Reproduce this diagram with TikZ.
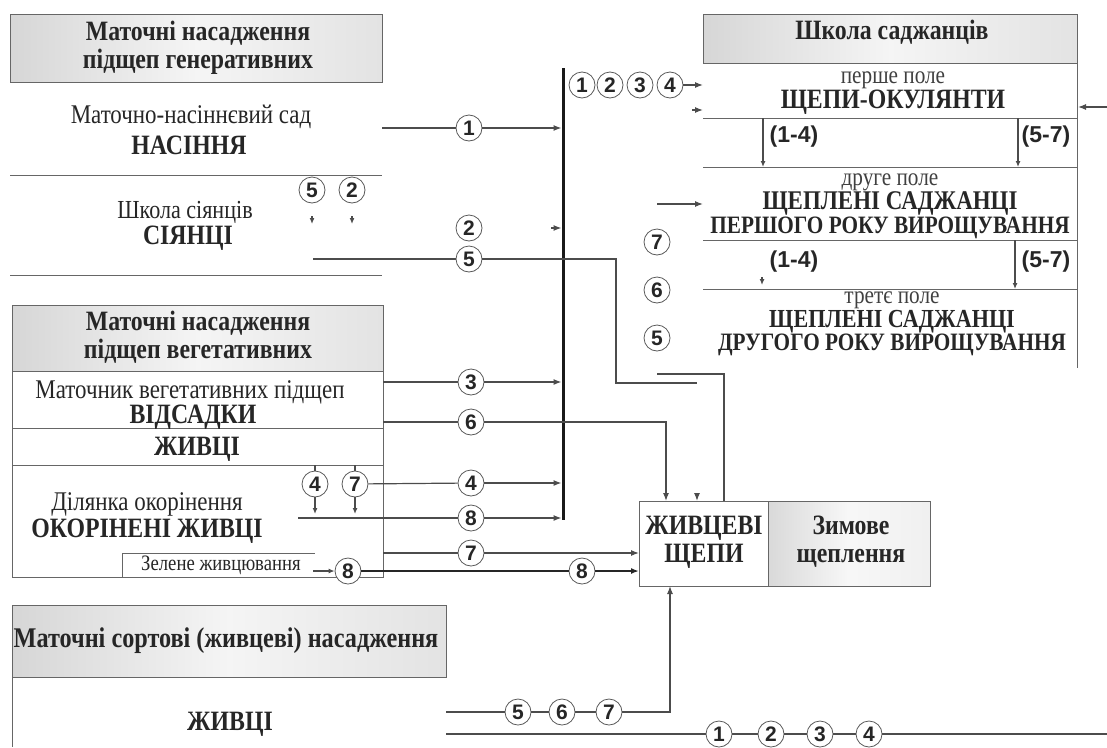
\documentclass[tikz,border=0pt]{standalone}
\usepackage{fontspec}
\setmainfont{Liberation Serif}[FakeStretch=0.85]
\setsansfont{Liberation Sans}
\usetikzlibrary{arrows.meta}
\begin{document}
\begin{tikzpicture}[x=1pt,y=-1pt,
  conn/.style={draw=black!70, line width=1.2pt},
  thick8/.style={draw=black!85, line width=2pt},
  tip/.style={-{Latex[length=8pt,width=6pt]}},
  stip/.style={-{Latex[length=6pt,width=5pt]}},
  frame/.style={draw=black!60, line width=1pt},
  hdr/.style={draw=black!60, line width=1pt, left color=gray!32, right color=gray!22, middle color=gray!8},
  num/.style={circle, draw=black!65, fill=white, line width=0.8pt, inner sep=0pt, minimum size=26pt, font=\sffamily\bfseries\fontsize{21}{21}\selectfont, text=black!85},
  rng/.style={font=\sffamily\bfseries\fontsize{23}{23}\selectfont, text=black!85, inner sep=0pt},
  bt/.style={font=\bfseries\fontsize{28}{28}\selectfont, align=center, text=black!85, inner sep=0pt},
  rt/.style={font=\fontsize{26}{28}\selectfont, align=center, text=black!85, inner sep=0pt},
  fld/.style={align=center, text=black!85, inner sep=0pt},
]
\useasboundingbox (0,0) rectangle (1107,747);

% ---------- left: generative rootstocks ----------
\path[hdr] (10,14) rectangle (382,82);
\node[bt] (hgen) at (198,48) {Маточні насадження\\підщеп генеративних};
\node[rt, font=\fontsize{27}{28}\selectfont] (sad) at (191,117) {Маточно-насіннєвий сад};
\node[bt] (nas) at (189,145) {НАСІННЯ};
\draw[frame] (10,175) -- (382,175);
\node[rt] (shs) at (185,212) {Школа сіянців};
\node[bt] (sian) at (188,238) {СІЯНЦІ};
\draw[frame] (10,275) -- (382,275);
\node[num] (s5) at (312,190) {5};
\node[num] (s2) at (352,190) {2};
\draw[conn,stip] (312,216) -- (312,224);
\draw[conn,stip] (352,216) -- (352,224);

% ---------- left: vegetative rootstocks ----------
\path[hdr] (12,305) rectangle (383,371);
\node[bt] (hveg) at (198,337) {Маточні насадження\\підщеп вегетативних};
\draw[frame] (12,371) rectangle (383,577);
\draw[frame] (12,428) -- (383,428);
\draw[frame] (12,465) -- (383,465);
\node[rt, font=\fontsize{27}{28}\selectfont] (mvp) at (190,392) {Маточник вегетативних підщеп};
\node[bt] (vids) at (193,417) {ВІДСАДКИ};
\node[bt] (zhv1) at (197,449) {ЖИВЦІ};
\node[fld] (dil) at (147,518)
  {{\fontsize{27}{24}\selectfont Ділянка окорінення}\\[2pt]{\bfseries\fontsize{28}{24}\selectfont ОКОРІНЕНІ ЖИВЦІ}};
\draw[frame] (122,577) -- (122,553) -- (315,553);
\node[font=\fontsize{22}{22}\selectfont, text=black!85, inner sep=0pt] (zel) at (221,565) {Зелене живцювання};
\node[num] (v4) at (315,484) {4};
\node[num] (v7) at (355,484) {7};
\draw[conn] (315,465) -- (v4);
\draw[conn] (355,465) -- (v7);
\draw[conn,stip] (v4) -- (315,514);
\draw[conn,stip] (v7) -- (355,514);

% ---------- left: cultivar cuttings ----------
\path[hdr] (12,605) rectangle (446,677);
\node[bt, font=\bfseries\fontsize{28.5}{28}\selectfont] (hsort) at (226,641) {Маточні сортові (живцеві) насадження};
\draw[frame] (12,677) -- (12,747);
\node[bt] (zhv2) at (230,724) {ЖИВЦІ};

% ---------- collecting bar ----------
\coordinate (bartop) at (563,68);
\coordinate (barbot) at (563,520);
\draw[black!90, line width=3pt] (bartop) -- (barbot);

% line 1
\node[num] (n1) at (469,128) {1};
\draw[conn] (382,128) -- (n1);
\draw[conn,tip] (n1) -- (561.5,128);
% line 2
\node[num] (n2) at (469,228) {2};
\draw[conn,tip] (551,228) -- (561.5,228);
% line 5
\node[num] (n5) at (469,259) {5};
\coordinate (c5a) at (616,259);
\coordinate (c5b) at (616,383);
\coordinate (c5c) at (697,383);
\draw[conn] (313,259) -- (n5);
\draw[conn] (n5) -- (c5a) -- (c5b) -- (c5c);
% line 3
\node[num] (n3) at (471,382) {3};
\draw[conn] (383,382) -- (n3);
\draw[conn,tip] (n3) -- (561.5,382);
% line 6
\node[num] (n6) at (471,422) {6};
\draw[conn] (383,422) -- (n6);
\coordinate (c6a) at (666,422);
% line 4
\node[num] (n4) at (471,483) {4};
\draw[conn] (v7) -- (n4);
\draw[conn,tip] (n4) -- (561.5,483);
% line 8 (to bar)
\node[num] (n8) at (471,518) {8};
\draw[conn] (298,518) -- (n8);
\draw[conn,tip] (n8) -- (561.5,518);
% line 7
\node[num] (n7) at (471,553) {7};
\draw[conn] (383,553) -- (n7);
% line 8 (green cuttings)
\node[num] (g8) at (348,571) {8};
\draw[conn,stip] (313,571) -- (g8);
\node[num] (n8b) at (582,571) {8};
\draw[thick8] (g8) -- (n8b);

% ---------- winter grafting box ----------
\path[draw=black!60, line width=1pt, fill=white] (639,501) rectangle (768,586);
\path[draw=black!60, line width=1pt, left color=gray!30, right color=gray!12, middle color=gray!6] (768,501) rectangle (930,586);
\node[bt] (zhsh) at (704,542) {ЖИВЦЕВІ\\ЩЕПИ};
\node[bt] (zym) at (851,542) {Зимове\\щеплення};
\coordinate (boxW7) at (639,553);
\coordinate (boxW8) at (639,571);
\draw[conn,tip] (n7) -- (boxW7);
\draw[thick8,tip] (n8b) -- (boxW8);
\draw[conn,tip] (n6) -- (c6a) -- (666,501);
\draw[conn,tip] (697,493) -- (697,501);
\coordinate (outA) at (724,374);
\coordinate (outB) at (657,374);
\draw[conn] (724,501) -- (outA) -- (outB);

% bottom lines 5-6-7
\node[num] (b5) at (518,712) {5};
\node[num] (b6) at (562,712) {6};
\node[num] (b7) at (609,712) {7};
\coordinate (b7e) at (670,712);
\draw[conn] (446,712) -- (b5);
\draw[conn] (b5) -- (b6);
\draw[conn] (b6) -- (b7);
\draw[conn,tip] (b7) -- (b7e) -- (670,586);

% bottom line 1-2-3-4
\node[num] (d1) at (719,734) {1};
\node[num] (d2) at (771,734) {2};
\node[num] (d3) at (820,734) {3};
\node[num] (d4) at (869,734) {4};
\draw[conn] (446,734) -- (d1);
\draw[conn] (d1) -- (d2);
\draw[conn] (d2) -- (d3);
\draw[conn] (d3) -- (d4);
\draw[conn] (d4) -- (1107,734);

% ---------- right: nursery of grafts ----------
\path[hdr] (703,14) rectangle (1077,63);
\node[bt] (hsch) at (892,32) {Школа саджанців};
\draw[frame] (1077,63) -- (1077,368);
\draw[frame] (703,118) -- (1077,118);
\draw[frame] (703,167) -- (1077,167);
\draw[frame] (703,240) -- (1077,240);
\draw[frame] (703,289) -- (1077,289);

\node[fld] (f1) at (893,93)
  {{\color{black!75}\fontsize{25}{23}\selectfont перше поле}\\{\bfseries\fontsize{28}{23}\selectfont ЩЕПИ-ОКУЛЯНТИ}};
\node[fld] (f2) at (890,206)
  {{\color{black!75}\fontsize{25}{23}\selectfont друге поле}\\{\bfseries\fontsize{27}{23}\selectfont ЩЕПЛЕНІ САДЖАНЦІ}\\{\bfseries\fontsize{25}{23}\selectfont ПЕРШОГО РОКУ ВИРОЩУВАННЯ}};
\node[fld] (f3) at (892,324)
  {{\color{black!75}\fontsize{25}{21.5}\selectfont третє поле}\\{\bfseries\fontsize{26}{21.5}\selectfont ЩЕПЛЕНІ САДЖАНЦІ}\\{\bfseries\fontsize{25}{21.5}\selectfont ДРУГОГО РОКУ ВИРОЩУВАННЯ}};

\node[rng] (r14a) at (794,137) {(1-4)};
\node[rng] (r57a) at (1046,137) {(5-7)};
\node[rng] (r14b) at (794,262) {(1-4)};
\node[rng] (r57b) at (1046,262) {(5-7)};
\draw[conn,stip] (763,118) -- (763,167);
\draw[conn,stip] (1018,118) -- (1018,167);
\draw[conn,stip] (762,277) -- (762,285);
\draw[conn,stip] (1015,240) -- (1015,289);

% inputs to first/second fields
\node[num] (t1) at (582,85) {1};
\node[num] (t2) at (610,85) {2};
\node[num] (t3) at (640,85) {3};
\node[num] (t4) at (670,85) {4};
\coordinate (f1in) at (703,85);
\draw[conn,tip] (t4) -- (f1in);
\draw[conn,tip] (692,110) -- (703,110);
\draw[conn,tip] (657,204) -- (703,204);
\draw[conn,tip] (1107,107) -- (1078,107);

\node[num] (m7) at (657,242) {7};
\node[num] (m6) at (657,290) {6};
\node[num] (m5) at (657,338) {5};
\end{tikzpicture}
\end{document}
